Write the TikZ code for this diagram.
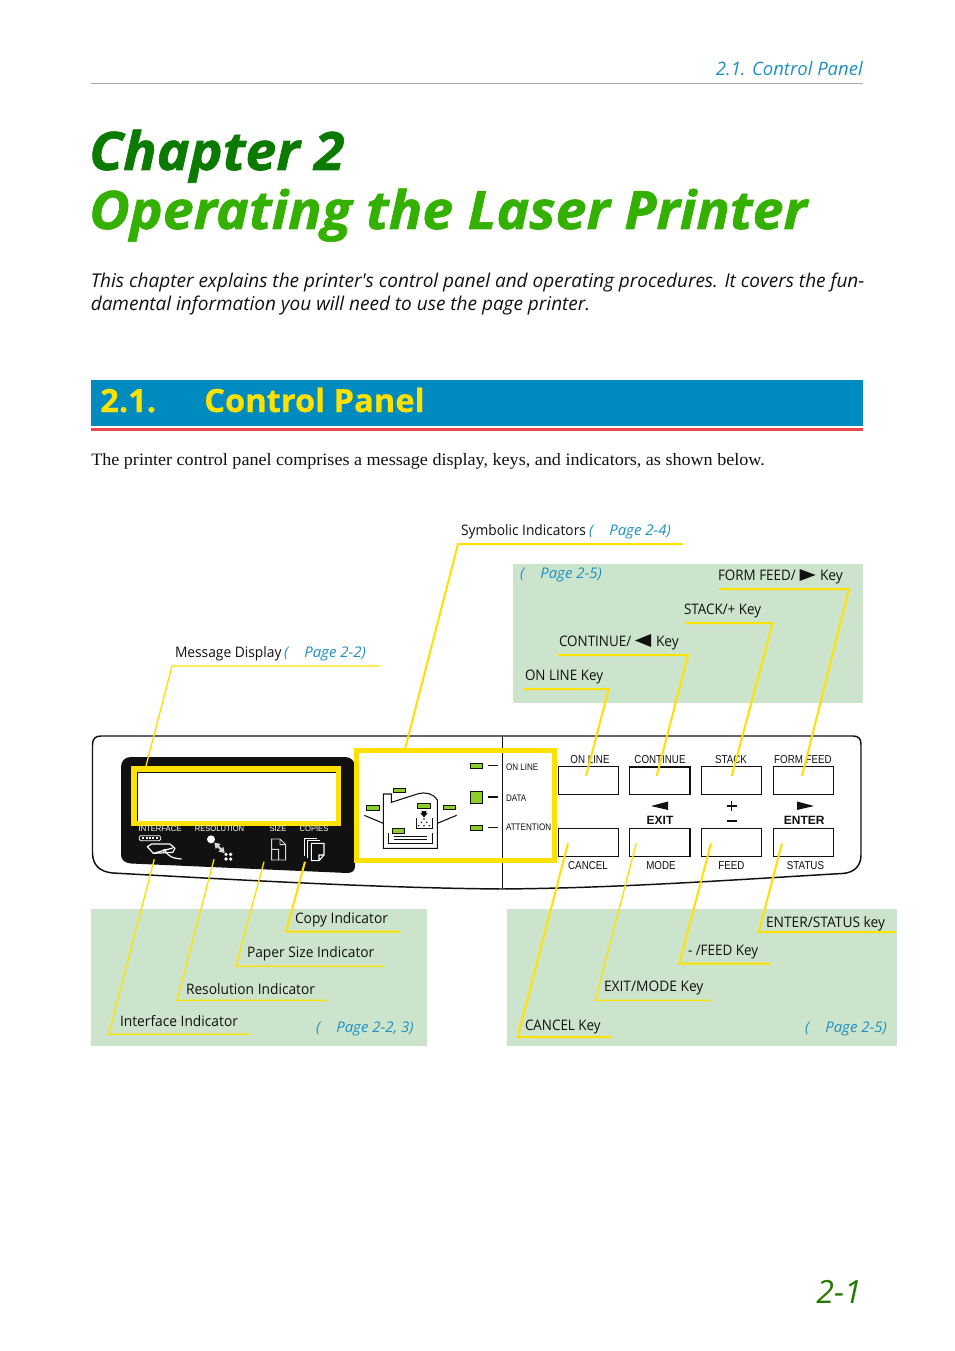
\documentclass[tikz,border=0pt]{standalone}
\usepackage{fontspec}
\setmainfont{Open Sans}
\newfontfamily\introfont{Open Sans}
\newfontfamily\serifbody[FakeStretch=1.04]{Liberation Serif}
\newfontfamily\panelfont[FakeStretch=0.85]{Liberation Sans}
\newfontfamily\indfont[FakeStretch=0.95]{Liberation Sans}
\newfontfamily\boldpanel{Liberation Sans}
\newfontfamily\labelfont[FakeStretch=0.95]{Open Sans}
\newfontfamily\capsfont[FakeStretch=0.925]{Open Sans}
\newfontfamily\preffont[FakeStretch=1.02]{Open Sans}
\newfontfamily\titlefont[FakeBold=1.2,FakeStretch=1.047]{Open Sans}
\newfontfamily\secfont[FakeBold=0.6,FakeStretch=1.02]{Open Sans}
\newcommand{\pxfont}[1]{\fontsize{\dimexpr #1pt*3/4\relax}{\dimexpr #1pt*9/10\relax}\selectfont}
\definecolor{refblue}{HTML}{1E90C3}
\definecolor{bandblue}{HTML}{008BC0}
\definecolor{bandred}{HTML}{E8494B}
\definecolor{ink}{HTML}{111111}
\definecolor{paleg}{HTML}{CCE4CB}
\definecolor{leadyellow}{HTML}{FFE100}
\definecolor{ledgreen}{HTML}{8CCF2A}
\definecolor{darkgr}{HTML}{0A7A00}
\definecolor{brightgr}{HTML}{33B000}
\tikzset{
  x=0.75pt,y=-0.75pt,
  txt/.style={inner sep=0pt,outer sep=0pt,anchor=base west,text=ink,font=\labelfont\pxfont{14.5}},
  captxt/.style={inner sep=0pt,outer sep=0pt,anchor=base west,text=ink,font=\capsfont\pxfont{14.5}},
  pref/.style={inner sep=0pt,outer sep=0pt,anchor=base west,text=refblue,font=\preffont\itshape\pxfont{14.7}},
  pan/.style={inner sep=0pt,outer sep=0pt,anchor=center,text=ink,font=\panelfont\pxfont{11.5}},
  led/.style={inner sep=0pt,outer sep=0pt,anchor=center,text=ink,font=\panelfont\pxfont{9.5}},
  ind/.style={inner sep=0pt,outer sep=0pt,anchor=center,text=white,font=\indfont\pxfont{8}},
  bold/.style={inner sep=0pt,outer sep=0pt,anchor=center,text=ink,font=\boldpanel\bfseries\pxfont{12}},
  greenbox/.style={fill=paleg,draw=none},
  lead/.style={draw=leadyellow,line width=1.5pt,line join=miter},
  leadthin/.style={draw=leadyellow,line width=1pt,line join=miter},
  keybox/.style={draw=ink,line width=0.9pt},
  ledbox/.style={draw=ink,fill=ledgreen,line width=0.7pt},
  hi/.style={draw=leadyellow,line width=3.9pt},
}
\begin{document}
\begin{tikzpicture}
\useasboundingbox (0,0) rectangle (954,1351);
\fill[white] (0,0) rectangle (954,1351);
% header
\node[inner sep=0pt,anchor=base east,text=refblue,font=\itshape\pxfont{18.5}] (hdr) at (863,76) {2.1. Control Panel};
\draw[gray!70,line width=0.6pt] (91,83.5) -- (863,83.5);
% title
\node[inner sep=0pt,anchor=base west,text=darkgr,font=\titlefont\bfseries\itshape\pxfont{53}] (chap) at (89,170) {Chapter 2};
\node[inner sep=0pt,anchor=base west,text=brightgr,font=\titlefont\bfseries\itshape\pxfont{53}] (optitle) at (89,229) {Operating the Laser Printer};
% intro
\node[inner sep=0pt,anchor=base west,text=ink,font=\introfont\itshape\pxfont{19}] (intro1) at (90.5,288) {This chapter explains the printer's control panel and operating procedures. It covers the fun-};
\node[inner sep=0pt,anchor=base west,text=ink,font=\introfont\itshape\pxfont{19}] (intro2) at (90.5,311) {damental information you will need to use the page printer.};
% band
\fill[bandblue] (91,380) rectangle (863,426);
\fill[bandred] (91,428) rectangle (863,431);
\node[inner sep=0pt,anchor=base west,text=leadyellow,font=\secfont\bfseries\pxfont{32}] (secnum) at (100,412) {2.1.};
\node[inner sep=0pt,anchor=base west,text=leadyellow,font=\secfont\bfseries\pxfont{32}] (sectitle) at (204,412) {Control Panel};
\node[inner sep=0pt,anchor=base west,text=ink,font=\serifbody\pxfont{17.4}] (body) at (91,465) {The printer control panel comprises a message display, keys, and indicators, as shown below.};
% green boxes
\path[greenbox] (513,564) rectangle (863,703);
\path[greenbox] (91,909) rectangle (427,1046);
\path[greenbox] (507,909) rectangle (897,1046);
% panel outline
\draw[ink,line width=1.1pt,line join=round] (101,736) -- (853,736) .. controls (859,736) and (861,739) .. (861,745) -- (861,855) .. controls (861,867) and (853,873) .. (842,873.5) .. controls (730,880) and (620,888) .. (502,889) .. controls (380,888) and (240,880) .. (113,873) .. controls (100,872) and (92.5,865) .. (92.5,853) -- (92.5,745) .. controls (92.5,739) and (95,736) .. (101,736) -- cycle;
\draw[ink,line width=0.7pt] (502.5,736) -- (502.5,889);
% bezel
\fill[ink] (131,757) -- (345,757) .. controls (351,757) and (355,761) .. (355,767) -- (355,866) .. controls (355,871) and (352,873) .. (347,873) -- (131,863.5) .. controls (125,863) and (121,860) .. (121,855) -- (121,767) .. controls (121,761) and (125,757) .. (131,757) -- cycle;
\fill[white] (135,771) rectangle (337,822);
\draw[ink,line width=0.9pt] (137,772) -- (137,821);
\fill[ink] (135,770) rectangle (337,772.5);
\draw[hi] (134,769) rectangle (338.5,823.5);
% indicator labels
\node[ind] (ifl) at (160,829) {INTERFACE};
\node[ind] (rsl) at (219.5,829) {RESOLUTION};
\node[ind] (szl) at (278,829) {SIZE};
\node[ind] (cpl) at (314,829) {COPIES};
\begin{scope}[shift={(120,820)},x=0.25pt,y=-0.25pt]
  \draw[white,line width=0.6pt,rounded corners=1pt] (58,47) rectangle (122,62);
  \foreach \q in {70,80,90,100,110} \fill[white] (\q-3,52) rectangle (\q+3,57);
  \draw[white,line width=0.9pt,line join=round] (82,80) -- (95,72) -- (150,72) -- (165,85) -- (158,97) -- (100,100) -- cycle (82,80) -- (100,100) -- (158,84) (130,88) -- (132,98) (135,87) .. controls (140,110) and (160,115) .. (185,117);
  \fill[white] (273,58) circle (12);
  \draw[white!85!black,line width=1.5pt] (292,77) -- (305,90);
  \fill[white!85!black] (283,68) -- (302,72) -- (287,87) -- cycle (314,99) -- (295,95) -- (310,80) -- cycle;
  \foreach \q/\r in {318/103,332/103,318/117,332/117} \fill[white] (\q,\r) circle (5.5);
  \draw[white!85!black,line width=0.7pt,line join=miter] (455,120) -- (455,57) -- (480,57) -- (497,74) -- (497,120) -- cycle (455,88) -- (476,88) -- (476,120) (480,57) -- (480,74) -- (497,74);
  \draw[white,line width=0.7pt] (553,108) -- (553,55) -- (590,55) (563,115) -- (563,62) -- (600,62);
  \draw[white,line width=0.8pt,fill=ink,line join=miter] (574,122) -- (574,70) -- (612,70) -- (612,105) -- (597,122) -- cycle (597,122) -- (597,105) -- (612,105);
\end{scope}
% symbolic area
\fill[white] (356,750) rectangle (554,861);
\draw[ink,line width=0.7pt] (502.5,750) -- (502.5,861);
\begin{scope}[shift={(350,745)},x=0.25pt,y=-0.25pt]
  \draw[ink,line width=0.8pt,line join=miter] (100,310) -- (100,147) -- (124,147) -- (124,172) -- (205,146) .. controls (225,140) and (252,146) .. (262,165) -- (262,310) -- cycle;
  \draw[ink,line width=0.8pt] (116,265) -- (116,296) -- (247,296) -- (247,265);
  \draw[ink,line width=0.8pt] (133,274) -- (232,274) (133,284) -- (232,284);
  \draw[ink,line width=0.8pt] (43,211) -- (100,235) (262,235) -- (320,211);
  \draw[ink,line width=0.6pt] (200,220) -- (200,250) -- (248,250) -- (248,220);
  \fill[ink] (215,198) -- (229,198) -- (229,205) -- (233,205) -- (222,217) -- (211,205) -- (215,205) -- cycle;
  \foreach \q/\r in {222/222,214/232,230/232,206/242,222/242,238/242} \fill[ink] (\q,\r) circle (2.5);
  \path[ledbox] (130,130) rectangle (167,142);
  \path[ledbox] (49,181) rectangle (89,197);
  \path[ledbox] (202,175) rectangle (242,190);
  \path[ledbox] (280,181) rectangle (317,194);
  \path[ledbox] (127,250) rectangle (164,266);
  \path[ledbox] (361,55) rectangle (398,71);
  \path[ledbox] (361,139) rectangle (398,176);
  \path[ledbox] (361,240) rectangle (398,257);
  \draw[ink,line width=1.1pt] (414,62) -- (444,62) (414,156) -- (444,156) (414,248) -- (444,248);
\end{scope}
\node[led,anchor=west] (lonl) at (506,767) {ON LINE};
\node[led,anchor=west] (ldat) at (506,798) {DATA};
\node[led,anchor=west] (latt) at (506,827.5) {ATTENTION};
\draw[hi] (356.5,750.5) rectangle (554.5,860.5);
% keys
\node[keybox,minimum width=45.3pt,minimum height=20.7pt,inner sep=0pt] (k1) at (588.5,780.5) {};
\node[keybox,minimum width=45.3pt,minimum height=20.7pt,inner sep=0pt,line width=1.2pt] (k2) at (659.8,780.5) {};
\node[keybox,minimum width=45pt,minimum height=20.7pt,inner sep=0pt] (k3) at (731.3,780.5) {};
\node[keybox,minimum width=45pt,minimum height=20.7pt,inner sep=0pt] (k4) at (803.3,780.5) {};
\node[keybox,minimum width=45.3pt,minimum height=21pt,inner sep=0pt] (k5) at (588.5,842.3) {};
\node[keybox,minimum width=45.3pt,minimum height=21pt,inner sep=0pt,line width=1.2pt] (k6) at (659.8,842.3) {};
\node[keybox,minimum width=45pt,minimum height=21pt,inner sep=0pt] (k7) at (731.3,842.3) {};
\node[keybox,minimum width=45pt,minimum height=21pt,inner sep=0pt] (k8) at (803.3,842.3) {};
\node[pan] (t1) at (590,759.5) {ON LINE};
\node[pan] (t2) at (660,759.5) {CONTINUE};
\node[pan] (t3) at (731,759.5) {STACK};
\node[pan] (t4) at (803,759.5) {FORM FEED};
\node[pan] (b1) at (588,865.5) {CANCEL};
\node[pan] (b2) at (661,865.5) {MODE};
\node[pan] (b3) at (731.5,865.5) {FEED};
\node[pan] (b4) at (805.5,865.5) {STATUS};
\node[bold] (exit) at (660,820.7) {EXIT};
\node[bold] (enter) at (804.3,820.7) {ENTER};
\fill[ink] (651,806) -- (668,801.5) -- (668,810) -- cycle;
\fill[ink] (797,801.5) -- (814,806) -- (797,810) -- cycle;
\draw[ink,line width=1pt] (727,806) -- (736.5,806) (731.7,801) -- (731.7,811);
\draw[ink,line width=1.4pt] (727,820.7) -- (736.5,820.7);
% labels
\node[txt] (lsym) at (461,535) {Symbolic Indicators};
\node[pref] (psym) at (589,535) {(\hspace{12pt}Page 2-4)};
\node[pref] (pkeys) at (520,578) {(\hspace{12pt}Page 2-5)};
\node[captxt] (lff) at (718,580) {FORM FEED/};
\node[txt] (lffk) at (820,580) {Key};
\fill[ink] (799.5,569) -- (815.5,575) -- (799.5,581) -- cycle;
\node[captxt] (lst) at (684,614) {STACK/+ Key};
\node[captxt] (lcn) at (559,646) {CONTINUE/};
\node[txt] (lcnk) at (656,646) {Key};
\fill[ink] (651,634) -- (635,640.5) -- (651,647) -- cycle;
\node[captxt] (lon) at (525,680) {ON LINE Key};
\node[txt] (lmsg) at (175,657) {Message Display};
\node[pref] (pmsg) at (284,657) {(\hspace{12pt}Page 2-2)};
\node[txt] (lcopy) at (295,923) {Copy Indicator};
\node[txt] (lpap) at (247,957) {Paper Size Indicator};
\node[txt] (lres) at (186,994) {Resolution Indicator};
\node[txt] (lint) at (120,1026) {Interface Indicator};
\node[pref] (pind) at (316,1032) {(\hspace{12pt}Page 2-2, 3)};
\node[txt] (lent) at (766,927) {ENTER/STATUS key};
\node[captxt] (lfeed) at (688,955) {- /FEED Key};
\node[txt] (lexit) at (604,991) {EXIT/MODE Key};
\node[captxt] (lcan) at (525,1030) {CANCEL Key};
\node[pref] (pcan) at (805,1032) {(\hspace{12pt}Page 2-5)};
% leader ends
\coordinate (esym) at (405,749);
\coordinate (emsg) at (146,766);
\coordinate (eff) at (802,776);
\coordinate (est) at (731.7,776);
\coordinate (ecn) at (656.7,776);
\coordinate (eon) at (586,776);
\coordinate (eint) at (154.3,859.3);
\coordinate (eres) at (214,859.3);
\coordinate (epap) at (264,861.7);
\coordinate (ecop) at (305,861.7);
\coordinate (eent) at (782,843.3);
\coordinate (efd) at (711,843.3);
\coordinate (eex) at (636.3,843.3);
\coordinate (eca) at (568,843.3);
\draw[lead] (683,544) -- (458,544) -- (esym);
\draw[leadthin] (380,666) -- (172,666) -- (emsg);
\draw[lead] (719,589) -- (849,589) -- (eff);
\draw[lead] (685,623) -- (772.7,623) -- (est);
\draw[lead] (558,655) -- (688,655) -- (ecn);
\draw[lead] (524,689) -- (608.7,689) -- (eon);
\draw[leadthin] (250.7,1034.3) -- (108.7,1034.3) -- (eint);
\draw[leadthin] (327.7,1000.3) -- (177,1000.3) -- (eres);
\draw[leadthin] (384.3,966.3) -- (236,966.3) -- (epap);
\draw[lead] (400.3,931.7) -- (286,931.7) -- (ecop);
\draw[lead] (895.7,932) -- (758.7,932) -- (eent);
\draw[lead] (770.7,963.7) -- (679.3,963.7) -- (efd);
\draw[leadthin] (711.7,1000.3) -- (595.3,1000.3) -- (eex);
\draw[lead] (611.7,1037) -- (517.7,1037) -- (eca);
% page number
\node[inner sep=0pt,anchor=base east,text=brightgr!70!black,font=\itshape\pxfont{32}] (pg) at (862,1303) {2-1};
\end{tikzpicture}
\end{document}
